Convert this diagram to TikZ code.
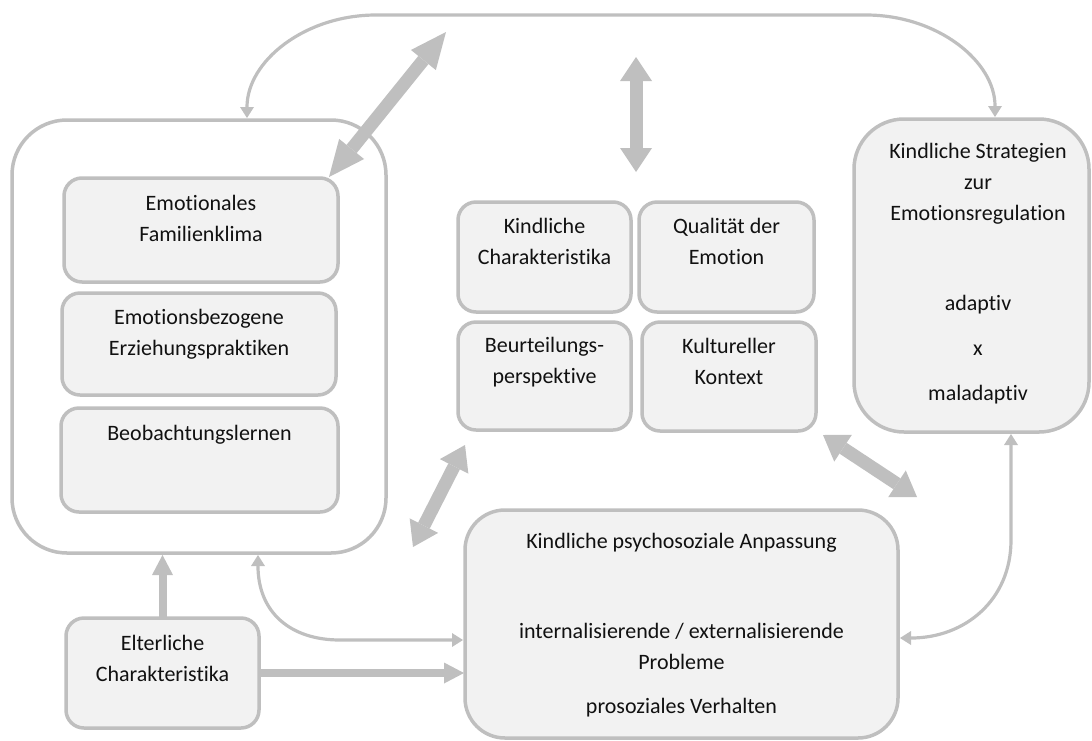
\documentclass[tikz,border=0pt]{standalone}
\usepackage{fontspec}
\setmainfont{Carlito}[Ligatures=NoCommon]
\usetikzlibrary{arrows.meta,calc}
\definecolor{edgegray}{HTML}{BFBFBF}
\definecolor{boxfill}{HTML}{F2F2F2}
\definecolor{txtcol}{HTML}{111111}
\tikzset{
  box/.style={draw=edgegray, line width=1.75pt, fill=boxfill, rounded corners=9pt, inner sep=0pt, outer sep=0pt},
  outerbox/.style={box, fill=white, rounded corners=27.5pt},
  lbl/.style={inner sep=0pt, anchor=north, align=center, text=txtcol, font=\fontsize{11}{15.5}\selectfont},
  thinarr/.style={draw=edgegray, line width=1.6pt, {Triangle[width=7pt,length=5.5pt,line width=0pt]}-{Triangle[width=7pt,length=5.5pt,line width=0pt]}},
  bigarr/.style={draw=edgegray, line width=6.5pt, {Triangle[width=16pt,length=12pt,line width=0pt]}-{Triangle[width=16pt,length=12pt,line width=0pt]}},
  longarr/.style={draw=edgegray, line width=6.5pt, {Triangle[width=16pt,length=18pt,line width=0pt]}-{Triangle[width=16pt,length=18pt,line width=0pt]}},
  medarr/.style={draw=edgegray, line width=4pt, -{Triangle[width=10.5pt,length=10pt,line width=0pt]}}
}
\begin{document}
\begin{tikzpicture}[x=0.5pt,y=-0.5pt]
\useasboundingbox (0,0) rectangle (1092,740);
% boxes
\node[outerbox, minimum width=187pt, minimum height=216.5pt] (outer) at (199,336.5) {};
\node[box, minimum width=137pt, minimum height=52pt] (fam) at (201,230) {};
\node[box, minimum width=137pt, minimum height=51pt] (emo) at (199,344) {};
\node[box, minimum width=138.5pt, minimum height=52pt] (beo) at (199.5,460) {};
\node[box, minimum width=86.5pt, minimum height=55pt] (kc) at (544.5,257) {};
\node[box, minimum width=87.5pt, minimum height=55pt] (qe) at (726.5,257) {};
\node[box, minimum width=86.5pt, minimum height=54pt] (bp) at (544.5,376) {};
\node[box, minimum width=87pt, minimum height=54.5pt] (kk) at (729,376.5) {};
\node[box, rounded corners=25pt, minimum width=117.5pt, minimum height=156.5pt] (strat) at (971.5,275.5) {};
\node[box, rounded corners=20pt, minimum width=216.5pt, minimum height=114pt] (anp) at (681.5,624) {};
\node[box, minimum width=96.5pt, minimum height=55pt] (elt) at (162.5,673) {};
% texts
\node[lbl] (famT) at (201,188) {\strut Emotionales\\Familienklima};
\node[lbl] (emoT) at (199,302) {\strut Emotionsbezogene\\Erziehungspraktiken};
\node[lbl] (beoT) at (199.5,418) {\strut Beobachtungslernen};
\node[lbl] (kcT) at (544.5,211) {\strut Kindliche\\Charakteristika};
\node[lbl] (qeT) at (726.5,211) {\strut Qualität der\\Emotion};
\node[lbl] (bpT) at (544.5,330) {\strut Beurteilungs-\\perspektive};
\node[lbl] (kkT) at (729,331) {\strut Kultureller\\Kontext};
\node[lbl] (stT) at (978,136) {\strut Kindliche Strategien\\zur\\Emotionsregulation};
\node[lbl] (adT) at (978,288) {\strut adaptiv};
\node[lbl] (xT) at (978,333) {\strut x};
\node[lbl] (malT) at (978,378) {\strut maladaptiv};
\node[lbl] (anpT) at (681.5,526) {\strut Kindliche psychosoziale Anpassung};
\node[lbl] (probT) at (681.5,616) {\strut internalisierende / externalisierende\\Probleme};
\node[lbl] (proT) at (681.5,691) {\strut prosoziales Verhalten};
\node[lbl] (eltT) at (162.5,628) {\strut Elterliche\\Charakteristika};
% coordinates
\coordinate (loopL) at ($(outer.north)+(48,-2)$);
\coordinate (loopR) at ($(strat.north)+(23.5,-2)$);
\coordinate (dA) at ($(fam.north east)+(-9,-1)$);
\coordinate (dB) at (446,32);
\coordinate (vA) at (636,57);
\coordinate (vB) at (636,172);
\coordinate (llA) at (413,547);
\coordinate (llB) at (465,445);
\coordinate (lrA) at (823,435);
\coordinate (lrB) at (917,497);
\coordinate (cA) at ($(outer.south)+(59,2)$);
\coordinate (cB) at ($(anp.west)+(-2,16)$);
\coordinate (sA) at ($(strat.south)+(39.5,2)$);
\coordinate (sB) at ($(anp.east)+(2,14)$);
% connectors
\draw[thinarr] (loopL) .. controls (247,61) and (305,15) .. (376,15) -- (866,15) .. controls (937,15) and (995,61) .. (loopR);
\draw[longarr] (dA) -- (dB);
\draw[bigarr] (vA) -- (vB);
\draw[bigarr] (llA) -- (llB);
\draw[bigarr] (lrA) -- (lrB);
\draw[medarr] (elt.north) -- ($(elt.north |- outer.south)+(0,2)$);
\draw[medarr] (elt.east) -- ($(elt.east -| anp.west)+(-1,0)$);
\draw[thinarr] (cA) .. controls (258,612) and (290,640) .. (340,640) -- (cB);
\draw[thinarr] (sA) -- (1011,540) .. controls (1011,600) and (965,638) .. (sB);
\end{tikzpicture}
\end{document}
